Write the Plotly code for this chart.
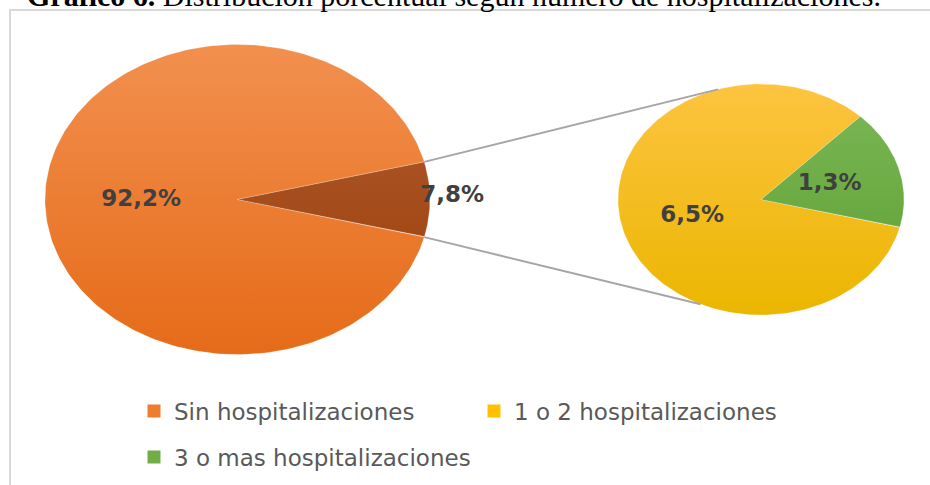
import numpy as np
import plotly.graph_objects as go

# ---------------- data ----------------
main_labels = ["Sin hospitalizaciones", "Con hospitalizaciones"]
main_values = [92.2, 7.8]
main_text = ["92,2%", "7,8%"]

sub_labels = ["1 o 2 hospitalizaciones", "3 o mas hospitalizaciones"]
sub_values = [6.5, 1.3]
sub_text = ["6,5%", "1,3%"]

legend_labels = ["Sin hospitalizaciones", "1 o 2 hospitalizaciones", "3 o mas hospitalizaciones"]
title_bold = "Gráfico 6."
title_rest = " Distribución porcentual según número de hospitalizaciones."

# ---------------- styling / geometry ----------------
W, H = 930, 485
MAIN_C, MAIN_R = (237.5, 199.5), (192.5, 155.0)
SUB_C, SUB_R = (761.0, 199.5), (143.0, 115.5)
SUB_START = -14.0  # angle where the small slice starts

GRAD = {
    "Sin hospitalizaciones": ("#F2904F", "#E56B18"),
    "Con hospitalizaciones": ("#B35E36", "#983C02"),
    "1 o 2 hospitalizaciones": ("#FDC440", "#EBB600"),
    "3 o mas hospitalizaciones": ("#7CB857", "#5D9E31"),
}
SOLID = {
    "Sin hospitalizaciones": "#ED7D31",
    "1 o 2 hospitalizaciones": "#FFC000",
    "3 o mas hospitalizaciones": "#70AD47",
}
LABEL_FONT = dict(family="DejaVu Sans", size=23, color="#404040")


def wedge(c, r, a0, a1, n=240):
    t = np.radians(np.linspace(a0, a1, n))
    xs = np.concatenate([[c[0]], c[0] + r[0] * np.cos(t), [c[0]]])
    ys = np.concatenate([[c[1]], c[1] - r[1] * np.sin(t), [c[1]]])
    return xs, ys


def point(c, r, ang, k=1.0):
    a = np.radians(ang)
    return c[0] + k * r[0] * np.cos(a), c[1] - k * r[1] * np.sin(a)


fig = go.Figure()

# ---- main pie: the small (expanded) slice centered on the right ----
main_total = sum(main_values)
half = main_values[1] / main_total * 360 / 2
main_spans = [(half, 360 - half), (-half, half)]
for lab, (a0, a1) in zip(main_labels, main_spans):
    xs, ys = wedge(MAIN_C, MAIN_R, a0, a1)
    top, bot = GRAD[lab]
    fig.add_trace(go.Scatter(
        x=xs, y=ys, mode="lines", fill="toself", line=dict(width=0.6, color="rgba(255,255,255,0.35)"),
        fillgradient=dict(type="vertical", colorscale=[[0, top], [1, bot]],
                          start=MAIN_C[1] - MAIN_R[1], stop=MAIN_C[1] + MAIN_R[1]),
        hoverinfo="skip", showlegend=False))

# ---- secondary pie ----
sub_total = sum(sub_values)
green_span = sub_values[1] / sub_total * 360
sub_spans = [(SUB_START + green_span, SUB_START + 360), (SUB_START, SUB_START + green_span)]
for lab, (a0, a1) in zip(sub_labels, sub_spans):
    xs, ys = wedge(SUB_C, SUB_R, a0, a1)
    top, bot = GRAD[lab]
    fig.add_trace(go.Scatter(
        x=xs, y=ys, mode="lines", fill="toself", line=dict(width=0.6, color="rgba(255,255,255,0.35)"),
        fillgradient=dict(type="vertical", colorscale=[[0, top], [1, bot]],
                          start=SUB_C[1] - SUB_R[1], stop=SUB_C[1] + SUB_R[1]),
        hoverinfo="skip", showlegend=False))

# ---- connector lines ----
p_top = point(MAIN_C, MAIN_R, half)
p_bot = point(MAIN_C, MAIN_R, -half)
q_top = point(SUB_C, SUB_R, 107.5)
q_bot = point(SUB_C, SUB_R, 245.0)
fig.add_trace(go.Scatter(
    x=[p_top[0], q_top[0], None, p_bot[0], q_bot[0]],
    y=[p_top[1], q_top[1], None, p_bot[1], q_bot[1]],
    mode="lines", line=dict(color="#A6A6A6", width=2),
    hoverinfo="skip", showlegend=False))

# ---- data labels ----
lx, ly = [], []
for (a0, a1), k in zip(main_spans, [0.5, 1.115]):
    px, py = point(MAIN_C, MAIN_R, (a0 + a1) / 2, k)
    lx.append(px); ly.append(py - (3 if k > 1 else -1))
for (a0, a1) in sub_spans:
    px, py = point(SUB_C, SUB_R, (a0 + a1) / 2, 0.5)
    lx.append(px); ly.append(py + 1)
fig.add_trace(go.Scatter(
    x=lx, y=ly, mode="text", text=main_text + sub_text,
    textfont=dict(family=LABEL_FONT["family"], size=LABEL_FONT["size"], color=LABEL_FONT["color"],
                  weight="bold"),
    textposition="middle center", hoverinfo="skip", showlegend=False))

# ---- legend entries ----
legend_ids = ["legend", "legend2", "legend3"]
for lab, lid in zip(legend_labels, legend_ids):
    fig.add_trace(go.Scatter(
        x=[None], y=[None], mode="markers", name=lab, legend=lid,
        marker=dict(symbol="square", size=13, color=SOLID[lab]), showlegend=True))

leg_common = dict(font=dict(family="DejaVu Sans", size=23, color="#595959"),
                  bgcolor="rgba(0,0,0,0)", xanchor="left", yanchor="middle",
                  itemclick=False, itemdoubleclick=False)
fig.update_layout(
    legend=dict(x=134 / W, y=1 - 411 / H, **leg_common),
    legend2=dict(x=474 / W, y=1 - 411 / H, **leg_common),
    legend3=dict(x=134 / W, y=1 - 457 / H, **leg_common),
)

# ---- frame and cut-off title ----
fig.add_shape(type="rect", xref="x", yref="y", x0=10, y0=10, x1=960, y1=520,
              line=dict(color="#D9D9D9", width=2), fillcolor="rgba(0,0,0,0)", layer="below")
fig.add_annotation(
    xref="paper", yref="paper", x=25 / W, y=1, xanchor="left", yanchor="middle", yshift=5,
    text="<b>" + title_bold + "</b>" + title_rest, showarrow=False,
    font=dict(family="Liberation Serif", size=30, color="#000000"))

fig.update_layout(
    width=W, height=H, margin=dict(l=0, r=0, t=0, b=0),
    paper_bgcolor="white", plot_bgcolor="white",
    xaxis=dict(range=[0, W], visible=False, fixedrange=True),
    yaxis=dict(range=[H, 0], visible=False, fixedrange=True),
    showlegend=True,
)

fig.write_html("out.html", config={"displayModeBar": False},
               post_script="document.body.style.margin='0px';")
